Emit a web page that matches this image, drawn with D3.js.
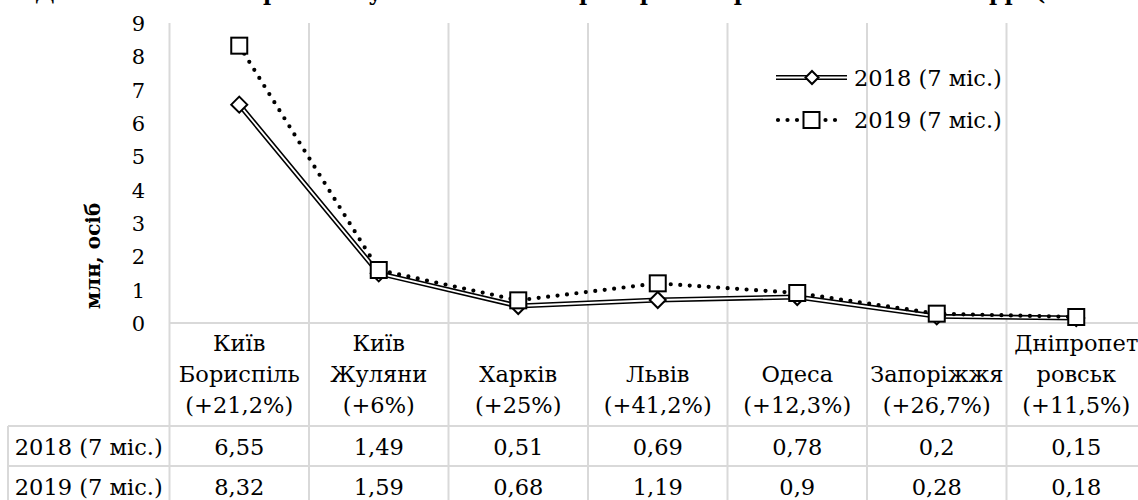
<!DOCTYPE html>
<html>
<head>
<meta charset="utf-8">
<script src="https://cdn.jsdelivr.net/npm/d3@7"></script>
<style>
  html, body { margin: 0; padding: 0; background: #fff; }
  svg { display: block; font-family: "DejaVu Serif", serif; }
</style>
</head>
<body>
<svg id="chart" width="1138" height="500"></svg>
<script>
// chart data
var categories = [
  ['Київ', 'Бориспіль', '(+21,2%)'],
  ['Київ', 'Жуляни', '(+6%)'],
  ['Харків', '(+25%)'],
  ['Львів', '(+41,2%)'],
  ['Одеса', '(+12,3%)'],
  ['Запоріжжя', '(+26,7%)'],
  ['Дніпропет', 'ровськ', '(+11,5%)']
];
var seriesNames = ['2018 (7 міс.)', '2019 (7 міс.)'];
var values2018 = [6.55, 1.49, 0.51, 0.69, 0.78, 0.2, 0.15];
var values2019 = [8.32, 1.59, 0.68, 1.19, 0.9, 0.28, 0.18];
var yTicks = [0, 1, 2, 3, 4, 5, 6, 7, 8, 9];
var titleText = 'Динаміка пасажиропотоку найбільших аеропортів України за 2018–2019 рр. (7 місяців) [12]';
var axisTitle = 'млн, осіб';

var svg = d3.select('#chart');
var gridColor = '#d9d9d9';

var plotLeft = 169.5, plotTop = 23, axisY = 323, step = 139.5;
var tableBottom = 506, rowLine1 = 426, rowLine2 = 466, labelColLeft = 8;

var x = d3.scaleBand()
  .domain(d3.range(categories.length))
  .range([plotLeft, plotLeft + step * categories.length])
  .padding(0);
var y = d3.scaleLinear().domain([0, 9]).range([axisY, plotTop]);

function fmt(v) {
  return String(v).replace('.', ',');
}

// title (cut off at top of picture, as in the source)
svg.append('text')
  .attr('x', 35)
  .attr('y', 0)
  .attr('font-size', 22)
  .attr('font-weight', 'bold')
  .text(titleText);

// grid: vertical lines through plot and table
var grid = svg.append('g').attr('stroke', gridColor).attr('stroke-width', 2);
d3.range(categories.length + 1).forEach(function(i) {
  var gx = plotLeft + step * i;
  grid.append('line')
    .attr('x1', gx).attr('x2', gx)
    .attr('y1', plotTop).attr('y2', tableBottom);
});
// horizontal axis / table lines
grid.append('line')
  .attr('x1', plotLeft).attr('x2', 1150)
  .attr('y1', axisY).attr('y2', axisY);
[rowLine1, rowLine2].forEach(function(ly) {
  grid.append('line')
    .attr('x1', labelColLeft).attr('x2', 1150)
    .attr('y1', ly).attr('y2', ly);
});
grid.append('line')
  .attr('x1', labelColLeft).attr('x2', labelColLeft)
  .attr('y1', rowLine1).attr('y2', tableBottom);

// y tick labels
svg.append('g')
  .selectAll('text')
  .data(yTicks)
  .join('text')
  .attr('x', 145)
  .attr('y', function(d) { return y(d) + 1; })
  .attr('text-anchor', 'end')
  .attr('dominant-baseline', 'central')
  .attr('font-size', 21)
  .text(function(d) { return d; });

// y axis title
svg.append('text')
  .attr('transform', 'translate(100,256) rotate(-90)')
  .attr('text-anchor', 'middle')
  .attr('font-size', 20)
  .attr('font-weight', 'bold')
  .text(axisTitle);

// category labels (bottom aligned)
var baselines = [351, 382, 413];
categories.forEach(function(lines, i) {
  var cx = x(i) + x.bandwidth() / 2;
  var offset = 3 - lines.length;
  lines.forEach(function(line, j) {
    svg.append('text')
      .attr('x', cx)
      .attr('y', baselines[j + offset])
      .attr('text-anchor', 'middle')
      .attr('font-size', 22.5)
      .text(line);
  });
});

// table rows
var rows = [values2018, values2019];
var rowBaselines = [455, 495];
rows.forEach(function(vals, r) {
  svg.append('text')
    .attr('x', (labelColLeft + plotLeft) / 2)
    .attr('y', rowBaselines[r])
    .attr('text-anchor', 'middle')
    .attr('font-size', 22.5)
    .text(seriesNames[r]);
  svg.append('g')
    .selectAll('text')
    .data(vals)
    .join('text')
    .attr('x', function(d, i) { return x(i) + x.bandwidth() / 2; })
    .attr('y', rowBaselines[r])
    .attr('text-anchor', 'middle')
    .attr('font-size', 22.5)
    .text(function(d) { return fmt(d); });
});

// lines
var line = d3.line()
  .x(function(d, i) { return x(i) + x.bandwidth() / 2; })
  .y(function(d) { return y(d); });

function diamond(g, cx, cy, r) {
  g.append('path')
    .attr('d', 'M' + cx + ',' + (cy - r) + 'L' + (cx + r) + ',' + cy +
      'L' + cx + ',' + (cy + r) + 'L' + (cx - r) + ',' + cy + 'Z')
    .attr('fill', '#fff')
    .attr('stroke', '#000')
    .attr('stroke-width', 2);
}

function square(g, cx, cy, s) {
  g.append('rect')
    .attr('x', cx - s / 2).attr('y', cy - s / 2)
    .attr('width', s).attr('height', s)
    .attr('fill', '#fff')
    .attr('stroke', '#000')
    .attr('stroke-width', 2);
}

function doubleLine(g, d) {
  g.append('path').attr('d', d).attr('fill', 'none')
    .attr('stroke', '#000').attr('stroke-width', 5);
  g.append('path').attr('d', d).attr('fill', 'none')
    .attr('stroke', '#fff').attr('stroke-width', 1.8);
}

function dotLine(g, d) {
  g.append('path').attr('d', d).attr('fill', 'none')
    .attr('stroke', '#000').attr('stroke-width', 4.2)
    .attr('stroke-linecap', 'round')
    .attr('stroke-dasharray', '0 9.5');
}

var s1 = svg.append('g');
doubleLine(s1, line(values2018));
values2018.forEach(function(v, i) {
  diamond(s1, x(i) + x.bandwidth() / 2, y(v), 8);
});

var s2 = svg.append('g');
dotLine(s2, line(values2019));
values2019.forEach(function(v, i) {
  square(s2, x(i) + x.bandwidth() / 2, y(v), 16);
});

// legend
var lg = svg.append('g');
doubleLine(lg, 'M776,77.5L847,77.5');
diamond(lg, 812, 77.5, 6.5);
dotLine(lg, 'M778,120L838,120');
square(lg, 811.5, 120, 16);
lg.selectAll('text')
  .data(seriesNames)
  .join('text')
  .attr('x', 854)
  .attr('y', function(d, i) { return i === 0 ? 86 : 128; })
  .attr('font-size', 22.5)
  .text(function(d) { return d; });
</script>
</body>
</html>
